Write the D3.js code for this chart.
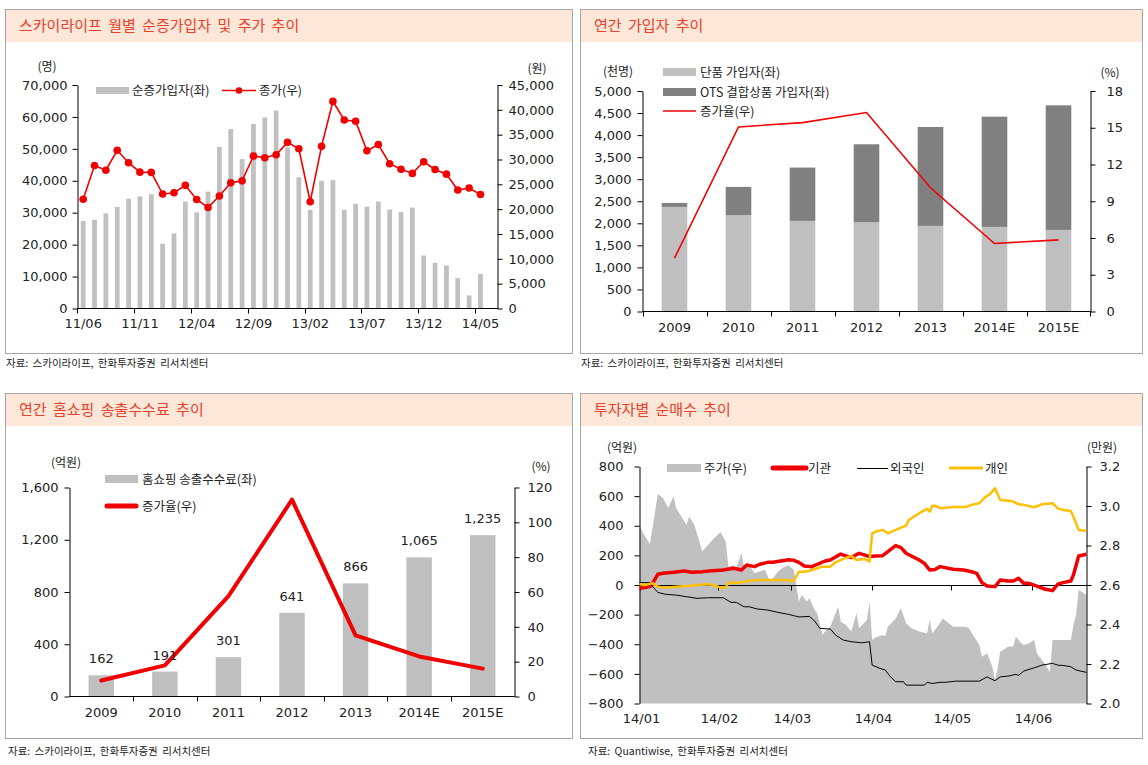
<!DOCTYPE html>
<html><head><meta charset="utf-8">
<script src="https://cdn.jsdelivr.net/npm/d3@7"></script>
<style>
body{margin:0;background:#fff;}
svg{display:block;}
</style></head>
<body><svg id="c" width="1148" height="765"></svg>
<script>
// ---------------- DATA ----------------
// Chart 1: monthly net subscribers & stock price
const c1Months = ["11/06","11/07","11/08","11/09","11/10","11/11","11/12","12/01","12/02","12/03","12/04","12/05","12/06","12/07","12/08","12/09","12/10","12/11","12/12","13/01","13/02","13/03","13/04","13/05","13/06","13/07","13/08","13/09","13/10","13/11","13/12","14/01","14/02","14/03","14/04","14/05","14/06"];
const c1Subscribers = [27400,27800,29800,31800,34400,35100,35800,20300,23500,33500,30100,36600,50600,56200,46800,57800,59800,62000,50500,41100,30900,40000,40200,30900,32800,31900,33500,31000,30200,31600,16600,14300,13500,9500,4100,10800];
const c1Price = [22000,28800,27850,31850,29350,27450,27400,23050,23300,24800,21950,20350,22650,25300,25700,30700,30350,30950,33450,32150,21500,32650,41700,37950,37700,31750,33000,29150,28050,27200,29550,28000,27050,23850,24250,22950];
const c1LeftTicks = [0,10000,20000,30000,40000,50000,60000,70000];
const c1RightTicks = [0,5000,10000,15000,20000,25000,30000,35000,40000,45000];

// Chart 2: annual subscribers
const c2Years = ["2009","2010","2011","2012","2013","2014E","2015E"];
const c2Single = [2372,2183,2054,2024,1941,1918,1850];
const c2OTS = [90,642,1209,1768,2243,2500,2825];
const c2Growth = [4.35,15.07,15.42,16.24,10.1,5.55,5.85];
const c2LeftTicks = [0,500,1000,1500,2000,2500,3000,3500,4000,4500,5000];
const c2RightTicks = [0,3,6,9,12,15,18];

// Chart 3: home shopping carriage fees
const c3Years = ["2009","2010","2011","2012","2013","2014E","2015E"];
const c3Fees = [162,191,301,641,866,1065,1235];
const c3Growth = [9.2,17.9,57.6,113.0,35.1,23.0,16.0];
const c3LeftTicks = [0,400,800,1200,1600];
const c3RightTicks = [0,20,40,60,80,100,120];

// Chart 4: net buying by investor (억원) and price (만원)
const c4Price = [["01-02",2.905],["01-03",2.871],["01-06",2.807],["01-09",3.061],["01-11",3.041],["01-13",2.99],["01-15",3.049],["01-16",2.99],["01-20",2.905],["01-21",2.947],["01-23",2.905],["01-26",2.77],["01-30",2.829],["02-02",2.868],["02-04",2.82],["02-05",2.693],["02-07",2.70],["02-08",2.685],["02-10",2.761],["02-11",2.693],["02-13",2.70],["02-15",2.66],["02-19",2.677],["02-21",2.617],["02-24",2.668],["02-26",2.689],["02-28",2.70],["03-02",2.677],["03-03",2.592],["03-04",2.516],["03-05",2.55],["03-07",2.516],["03-08",2.533],["03-10",2.474],["03-11",2.457],["03-13",2.347],["03-14",2.364],["03-16",2.389],["03-19",2.49],["03-20",2.414],["03-22",2.397],["03-24",2.364],["03-26",2.457],["03-27",2.381],["03-30",2.423],["03-31",2.516],["04-01",2.321],["04-02",2.333],["04-05",2.347],["04-06",2.34],["04-07",2.389],["04-10",2.431],["04-12",2.482],["04-14",2.406],["04-16",2.381],["04-19",2.364],["04-22",2.355],["04-23",2.423],["04-24",2.355],["04-26",2.39],["04-28",2.43],["04-30",2.41],["05-02",2.389],["05-07",2.389],["05-08",2.381],["05-12",2.296],["05-13",2.237],["05-15",2.254],["05-17",2.186],["05-18",2.118],["05-19",2.178],["05-20",2.262],["05-22",2.279],["05-23",2.288],["05-25",2.288],["05-26",2.338],["05-28",2.305],["05-29",2.296],["05-31",2.305],["06-02",2.321],["06-03",2.254],["06-06",2.203],["06-08",2.16],["06-09",2.321],["06-13",2.321],["06-16",2.321],["06-17",2.397],["06-18",2.448],["06-19",2.575],["06-20",2.567],["06-22",2.55]];
const c4Institution = [["01-02",-18],["01-03",-20],["01-06",-11],["01-07",11],["01-09",72],["01-11",79],["01-15",86],["01-19",95],["01-22",86],["01-26",90],["01-30",97],["02-03",101],["02-07",113],["02-10",101],["02-12",135],["02-15",124],["02-17",140],["02-20",153],["02-22",153],["02-25",162],["02-28",170],["03-02",167],["03-04",153],["03-06",128],["03-09",124],["03-11",140],["03-14",162],["03-16",169],["03-20",209],["03-22",196],["03-24",185],["03-27",214],["03-29",203],["03-31",191],["04-02",196],["04-05",198],["04-07",225],["04-09",252],["04-10",266],["04-12",252],["04-14",214],["04-16",196],["04-19",169],["04-21",146],["04-23",101],["04-25",105],["04-27",124],["05-02",106],["05-06",101],["05-09",90],["05-11",79],["05-13",16],["05-15",-7],["05-18",-11],["05-20",34],["05-23",27],["05-25",27],["05-27",45],["05-29",11],["05-31",11],["06-03",-7],["06-06",-27],["06-09",-38],["06-11",5],["06-13",16],["06-16",27],["06-17",68],["06-19",196],["06-22",207]];
const c4Foreign = [["01-02",16],["01-06",16],["01-07",-11],["01-09",-50],["01-12",-63],["01-16",-68],["01-20",-79],["01-24",-90],["01-28",-86],["02-03",-86],["02-06",-117],["02-08",-117],["02-11",-147],["02-13",-147],["02-16",-162],["02-20",-169],["02-24",-185],["02-28",-198],["03-02",-207],["03-04",-216],["03-08",-212],["03-10",-243],["03-12",-293],["03-16",-297],["03-18",-338],["03-21",-372],["03-24",-383],["03-28",-390],["03-31",-383],["04-01",-541],["04-04",-563],["04-06",-574],["04-08",-620],["04-10",-653],["04-13",-653],["04-14",-676],["04-18",-676],["04-21",-676],["04-22",-657],["04-24",-665],["04-27",-657],["04-29",-657],["05-03",-649],["05-08",-649],["05-12",-649],["05-15",-620],["05-16",-630],["05-18",-646],["05-20",-620],["05-23",-615],["05-26",-603],["05-27",-610],["05-29",-581],["06-02",-559],["06-05",-541],["06-09",-529],["06-11",-541],["06-13",-543],["06-16",-552],["06-18",-574],["06-22",-590]];
const c4Individual = [["01-02",5],["01-04",0],["01-07",11],["01-09",-11],["01-12",-18],["01-16",-11],["01-20",-7],["01-24",0],["01-29",5],["01-31",-5],["02-02",-18],["02-04",-16],["02-05",16],["02-10",16],["02-12",27],["02-17",34],["02-22",34],["02-27",34],["03-02",27],["03-04",90],["03-06",90],["03-08",95],["03-11",113],["03-13",124],["03-16",124],["03-18",153],["03-21",176],["03-24",196],["03-26",169],["03-29",176],["03-30",169],["03-31",158],["04-01",349],["04-03",365],["04-05",372],["04-07",349],["04-10",372],["04-12",387],["04-14",401],["04-15",439],["04-18",473],["04-20",495],["04-22",514],["04-23",495],["04-24",535],["04-25",535],["04-27",520],["04-28",520],["05-02",527],["05-07",527],["05-09",541],["05-12",552],["05-14",590],["05-16",613],["05-18",653],["05-20",574],["05-24",567],["05-25",563],["05-27",545],["05-29",541],["06-02",525],["06-05",545],["06-09",552],["06-11",517],["06-13",507],["06-16",500],["06-17",462],["06-19",372],["06-22",365]];
const c4LeftTicks = [-800,-600,-400,-200,0,200,400,600,800];
const c4RightTicks = [2.0,2.2,2.4,2.6,2.8,3.0,3.2];
const c4DateRange = ["01-02","06-22"];
const c4MonthTicks = ["01-02","02-01","03-01","04-01","05-01","06-01"];

// ---------------- DRAWING ----------------
const NUM = "DejaVu Sans, Liberation Sans, sans-serif";
const KR = "Noto Sans CJK KR, sans-serif";
const RED = "#f00000";
const svg = d3.select("#c");
svg.append("rect").attr("width",1148).attr("height",765).attr("fill","#fff");

function panel(x0,y0,x1,y1,title,source,sx,sy){
  svg.append("rect").attr("x",x0+0.5).attr("y",y0+0.5).attr("width",x1-x0).attr("height",y1-y0)
    .attr("fill","#fff").attr("stroke","#a6a6a6");
  svg.append("rect").attr("x",x0+1).attr("y",y0+1).attr("width",x1-x0-1).attr("height",32).attr("fill","#fde7d8");
  svg.append("text").attr("x",x0+14).attr("y",y0+22).attr("font-family",KR).attr("font-size",15)
    .attr("word-spacing",3).attr("fill","#e8402a").text(title);
  svg.append("text").attr("x",sx).attr("y",sy).attr("font-family",KR).attr("font-size",10.5)
    .attr("word-spacing",2).attr("fill","#222").text(source);
}
function styleAxis(g){
  g.attr("font-family",null).attr("font-size",null);
  g.select(".domain").attr("stroke","#000");
  g.selectAll(".tick line").attr("stroke","#000");
  g.selectAll(".tick text").attr("font-family",NUM).attr("font-size",13).attr("fill","#222");
}
function label(x,y,t,anchor,size,family){
  return svg.append("text").attr("x",x).attr("y",y).attr("text-anchor",anchor||"start")
    .attr("font-family",family||KR).attr("font-size",size||12).attr("fill","#222").text(t);
}
const fmt = d3.format(",");

panel(5,9,572,353,"스카이라이프 월별 순증가입자 및 주가 추이","자료: 스카이라이프, 한화투자증권 리서치센터",6,367);
panel(580,9,1142,353,"연간 가입자 추이","자료: 스카이라이프, 한화투자증권 리서치센터",581,367);
panel(5,393,572,738,"연간 홈쇼핑 송출수수료 추이","자료: 스카이라이프, 한화투자증권 리서치센터",8,755);
panel(580,393,1142,738,"투자자별 순매수 추이","자료: Quantiwise, 한화투자증권 리서치센터",588,755);

// ===== Chart 1 =====
(function(){
  const L=77.5,R=497.5,T=85,B=308.5;
  const x = d3.scaleBand().domain(c1Months).range([L,R]).paddingInner(0.58).paddingOuter(0.29);
  const yL = d3.scaleLinear().domain([0,70000]).range([B,T]);
  const yR = d3.scaleLinear().domain([0,45000]).range([B,T]);
  const step = x.step();
  svg.append("g").selectAll("rect").data(c1Subscribers).join("rect")
    .attr("x",(d,i)=>x(c1Months[i])).attr("width",x.bandwidth())
    .attr("y",d=>yL(d)).attr("height",d=>yL(0)-yL(d)).attr("fill","#c0c0c0");
  svg.append("g").attr("transform",`translate(${L},0)`)
    .call(d3.axisLeft(yL).tickValues(c1LeftTicks).tickFormat(fmt).tickSize(5).tickSizeOuter(0).tickPadding(5)).call(styleAxis);
  svg.append("g").attr("transform",`translate(${R},0)`)
    .call(d3.axisRight(yR).tickValues(c1RightTicks).tickFormat(fmt).tickSize(5).tickSizeOuter(0).tickPadding(6)).call(styleAxis);
  svg.append("line").attr("x1",L).attr("x2",R).attr("y1",B).attr("y2",B).attr("stroke","#000");
  c1Months.forEach((m,i)=>{
    if(i%5===0){
      const ex = Math.round(x(m)-step*0.29)+0.5;
      svg.append("line").attr("x1",ex).attr("x2",ex).attr("y1",B).attr("y2",B+5).attr("stroke","#000");
      label(x(m)+x.bandwidth()/2,B+19,m,"middle",13,NUM);
    }
  });
  const cx = i=>x(c1Months[i])+x.bandwidth()/2;
  svg.append("path").datum(c1Price).attr("fill","none").attr("stroke",RED).attr("stroke-width",1.6)
    .attr("d",d3.line().x((d,i)=>cx(i)).y(d=>yR(d)));
  svg.append("g").selectAll("circle").data(c1Price).join("circle")
    .attr("cx",(d,i)=>cx(i)).attr("cy",d=>yR(d)).attr("r",3.8).attr("fill",RED);
  label(47,71,"(명)","middle",12);
  label(537,73,"(원)","middle",12);
  svg.append("rect").attr("x",96).attr("y",87).attr("width",33).attr("height",7).attr("fill","#c0c0c0");
  label(132,95,"순증가입자(좌)","start",12.5);
  svg.append("line").attr("x1",222).attr("x2",256).attr("y1",90.5).attr("y2",90.5).attr("stroke",RED).attr("stroke-width",1.6);
  svg.append("circle").attr("cx",239).attr("cy",90.5).attr("r",3.3).attr("fill",RED);
  label(259,95,"종가(우)","start",12.5);
})();

// ===== Chart 2 =====
(function(){
  const L=642.5,R=1090.5,T=91,B=311.5;
  const x = d3.scaleBand().domain(c2Years).range([L,R]).paddingInner(0.6).paddingOuter(0.3);
  const yL = d3.scaleLinear().domain([0,5000]).range([B,T]);
  const yR = d3.scaleLinear().domain([0,18]).range([B,T]);
  const rows = c2Years.map((y,i)=>({year:y,single:c2Single[i],ots:c2OTS[i]}));
  const stack = d3.stack().keys(["single","ots"])(rows);
  const col = {single:"#bfbfbf",ots:"#808080"};
  stack.forEach(s=>{
    svg.append("g").selectAll("rect").data(s).join("rect")
      .attr("x",d=>x(d.data.year)).attr("width",x.bandwidth())
      .attr("y",d=>yL(d[1])).attr("height",d=>yL(d[0])-yL(d[1])).attr("fill",col[s.key]);
  });
  svg.append("g").attr("transform",`translate(${L},0)`)
    .call(d3.axisLeft(yL).tickValues(c2LeftTicks).tickFormat(fmt).tickSize(5).tickSizeOuter(0).tickPadding(6)).call(styleAxis);
  svg.append("g").attr("transform",`translate(${R},0)`)
    .call(d3.axisRight(yR).tickValues(c2RightTicks).tickSize(5).tickSizeOuter(0).tickPadding(11)).call(styleAxis);
  svg.append("line").attr("x1",L).attr("x2",R).attr("y1",B).attr("y2",B).attr("stroke","#000");
  const step=x.step();
  c2Years.forEach((yv,i)=>{
    const ex=Math.round(L+i*step)+0.5;
    svg.append("line").attr("x1",ex).attr("x2",ex).attr("y1",B).attr("y2",B+5).attr("stroke","#000");
    label(x(yv)+x.bandwidth()/2,B+20,yv,"middle",13,NUM);
  });
  svg.append("line").attr("x1",R).attr("x2",R).attr("y1",B).attr("y2",B+5).attr("stroke","#000");
  svg.append("path").datum(c2Growth).attr("fill","none").attr("stroke",RED).attr("stroke-width",1.6)
    .attr("d",d3.line().x((d,i)=>x(c2Years[i])+x.bandwidth()/2).y(d=>yR(d)));
  label(618,76,"(천명)","middle",12);
  label(1110,77,"(%)","middle",12);
  svg.append("rect").attr("x",663).attr("y",68).attr("width",33).attr("height",8).attr("fill","#bfbfbf");
  label(700,77,"단품 가입자(좌)","start",12.5);
  svg.append("rect").attr("x",663).attr("y",88).attr("width",33).attr("height",8).attr("fill","#808080");
  label(700,97,"OTS 결합상품 가입자(좌)","start",12.5);
  svg.append("line").attr("x1",663).attr("x2",696).attr("y1",111).attr("y2",111).attr("stroke",RED).attr("stroke-width",1.6);
  label(700,116,"증가율(우)","start",12.5);
})();

// ===== Chart 3 =====
(function(){
  const L=69.5,R=514.5,T=487.5,B=696.5;
  const x = d3.scaleBand().domain(c3Years).range([L,R]).paddingInner(0.6).paddingOuter(0.3);
  const yL = d3.scaleLinear().domain([0,1600]).range([B,T]);
  const yR = d3.scaleLinear().domain([0,120]).range([B,T]);
  svg.append("g").selectAll("rect").data(c3Fees).join("rect")
    .attr("x",(d,i)=>x(c3Years[i])).attr("width",x.bandwidth())
    .attr("y",d=>yL(d)).attr("height",d=>yL(0)-yL(d)).attr("fill","#bfbfbf");
  svg.append("g").attr("transform",`translate(${L},0)`)
    .call(d3.axisLeft(yL).tickValues(c3LeftTicks).tickFormat(fmt).tickSize(5).tickSizeOuter(0).tickPadding(6)).call(styleAxis);
  svg.append("g").attr("transform",`translate(${R},0)`)
    .call(d3.axisRight(yR).tickValues(c3RightTicks).tickSize(5).tickSizeOuter(0).tickPadding(8)).call(styleAxis);
  svg.append("line").attr("x1",L).attr("x2",R).attr("y1",B).attr("y2",B).attr("stroke","#000");
  const step=x.step();
  c3Years.forEach((yv,i)=>{
    const ex=Math.round(L+i*step)+0.5;
    if(i>0) svg.append("line").attr("x1",ex).attr("x2",ex).attr("y1",B).attr("y2",B+5).attr("stroke","#000");
    label(x(yv)+x.bandwidth()/2,B+20,yv,"middle",13,NUM);
  });
  svg.append("path").datum(c3Growth).attr("fill","none").attr("stroke",RED).attr("stroke-width",4)
    .attr("stroke-linejoin","round").attr("stroke-linecap","round")
    .attr("d",d3.line().x((d,i)=>x(c3Years[i])+x.bandwidth()/2).y(d=>yR(d)));
  c3Fees.forEach((v,i)=>{
    label(x(c3Years[i])+x.bandwidth()/2,yL(v)-12,fmt(v),"middle",13,NUM);
  });
  label(66,467,"(억원)","middle",12);
  label(541,471,"(%)","middle",12);
  svg.append("rect").attr("x",105).attr("y",475).attr("width",33).attr("height",8).attr("fill","#bfbfbf");
  label(142,484,"홈쇼핑 송출수수료(좌)","start",12.5);
  svg.append("line").attr("x1",107).attr("x2",136).attr("y1",506).attr("y2",506).attr("stroke",RED)
    .attr("stroke-width",5).attr("stroke-linecap","round");
  label(142,511,"증가율(우)","start",12.5);
})();

// ===== Chart 4 =====
(function(){
  const L=639.5,R=1086.5,T=466.5,B=703.5;
  const pd = s=>d3.timeParse("%Y-%m-%d")("2014-"+s);
  const x = d3.scaleTime().domain(c4DateRange.map(pd)).range([L,R]);
  const yL = d3.scaleLinear().domain([-800,800]).range([B,T]);
  const yR = d3.scaleLinear().domain([2.0,3.2]).range([B,T]);
  svg.append("path").datum(c4Price).attr("fill","#c0c0c0")
    .attr("d",d3.area().x(d=>x(pd(d[0]))).y0(yR(2.0)).y1(d=>yR(d[1])));
  svg.append("g").attr("transform",`translate(${L},0)`)
    .call(d3.axisLeft(yL).tickValues(c4LeftTicks).tickFormat(d3.format("d")).tickSize(5).tickSizeOuter(0).tickPadding(11)).call(styleAxis);
  svg.append("g").attr("transform",`translate(${R},0)`)
    .call(d3.axisRight(yR).tickValues(c4RightTicks).tickFormat(d3.format(".1f")).tickSize(5).tickSizeOuter(0).tickPadding(8)).call(styleAxis);
  const y0 = Math.round(yL(0))+0.5;
  svg.append("line").attr("x1",L).attr("x2",R).attr("y1",y0).attr("y2",y0).attr("stroke","#000");
  const fm = d3.timeFormat("%y/%m");
  c4MonthTicks.forEach(s=>{
    const ex=Math.round(x(pd(s)))+0.5;
    svg.append("line").attr("x1",ex).attr("x2",ex).attr("y1",y0).attr("y2",y0+5).attr("stroke","#000");
    label(ex+1,723,fm(pd(s)),"middle",13,NUM);
  });
  const ln = d3.line().x(d=>x(pd(d[0]))).y(d=>yL(d[1]));
  svg.append("path").datum(c4Institution).attr("fill","none").attr("stroke",RED).attr("stroke-width",3.5).attr("stroke-linejoin","round").attr("d",ln);
  svg.append("path").datum(c4Foreign).attr("fill","none").attr("stroke","#000").attr("stroke-width",1).attr("d",ln);
  svg.append("path").datum(c4Individual).attr("fill","none").attr("stroke","#ffc000").attr("stroke-width",2.5).attr("stroke-linejoin","round").attr("d",ln);
  label(622,452,"(억원)","middle",12);
  label(1102,452,"(만원)","middle",12);
  svg.append("rect").attr("x",667).attr("y",464).attr("width",34).attr("height",8).attr("fill","#c0c0c0");
  label(704,473,"주가(우)","start",12.5);
  svg.append("line").attr("x1",773).attr("x2",806).attr("y1",468).attr("y2",468).attr("stroke",RED).attr("stroke-width",5).attr("stroke-linecap","round");
  label(808,473,"기관","start",12.5);
  svg.append("line").attr("x1",857).attr("x2",888).attr("y1",468.5).attr("y2",468.5).attr("stroke","#000").attr("stroke-width",1);
  label(890,473,"외국인","start",12.5);
  svg.append("line").attr("x1",949).attr("x2",983).attr("y1",468).attr("y2",468).attr("stroke","#ffc000").attr("stroke-width",3);
  label(985,473,"개인","start",12.5);
})();
</script>
</body></html>
